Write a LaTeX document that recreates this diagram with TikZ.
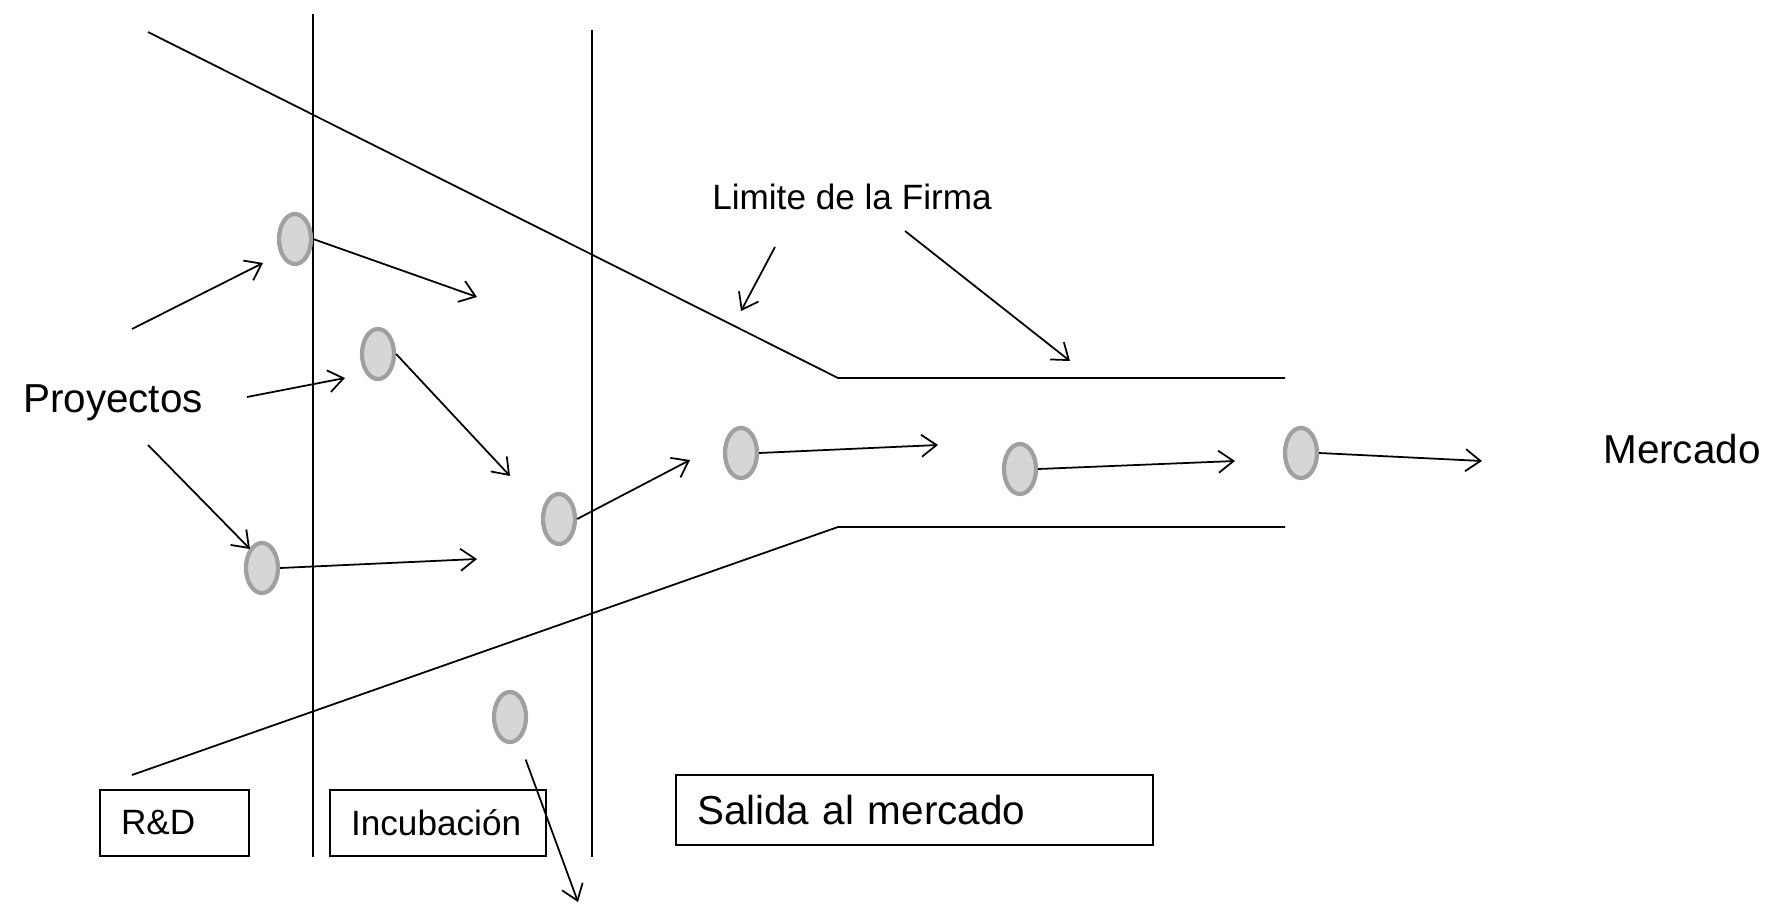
\documentclass[tikz,border=0pt]{standalone}
\usepackage{fontspec}
\setmainfont{Liberation Sans}
\usetikzlibrary{shapes.geometric,arrows.meta}
\definecolor{projfill}{HTML}{D6D6D6}
\definecolor{projline}{HTML}{A0A0A0}

\begin{document}
\begin{tikzpicture}
  [x=0.01cm,y=-0.01cm,line width=0.5pt,
   >={Straight Barb[length=1.5mm,width=2.2mm]},
   proj/.style={ellipse,draw=projline,fill=projfill,line width=1.2pt,
     minimum width=0.32cm,minimum height=0.50cm,inner sep=0pt},
   stage/.style={draw,line width=0.6pt,minimum height=0.66cm,inner xsep=0.21cm,
     align=left,anchor=west,font=\fontsize{10}{12}\selectfont},
   big/.style={font=\fontsize{11.5}{14}\selectfont},
   small/.style={font=\fontsize{10}{12}\selectfont}]
  \useasboundingbox (0,0) rectangle (1768,906);

  % phase dividers
  \draw (313,14) -- (313,857);
  \draw (592,30) -- (592,857);

  % limite de la firma
  \coordinate (ft1) at (148,32);
  \coordinate (ft2) at (838,378);
  \coordinate (ft3) at (1285,378);
  \coordinate (fb1) at (132,775);
  \coordinate (fb2) at (838,527);
  \coordinate (fb3) at (1285,527);
  \draw (ft1) -- (ft2) -- (ft3);
  \draw (fb1) -- (fb2) -- (fb3);

  % projects
  \node[proj] (e1) at (295,239) {};
  \node[proj] (e2) at (378,354) {};
  \node[proj] (e3) at (262,568) {};
  \node[proj] (e4) at (559,519) {};
  \node[proj] (e5) at (741,453) {};
  \node[proj] (e6) at (1020,469) {};
  \node[proj] (e7) at (1301,453) {};
  \node[proj] (e8) at (510,717) {};

  % labels
  \node[big] (proy) at (113,403) {Proyectos};
  \node[big] (merc) at (1682,449) {Mercado};
  \node[small] (lim) at (852,197) {Limite de la Firma};

  % stages
  \node[stage,text width=1.07cm] (rd) at (99,823) {R\&D};
  \node[stage,text width=1.74cm] (inc) at (329,823) {Incubación};
  \node[stage,text width=4.35cm,minimum height=0.70cm,
    font=\fontsize{11.5}{14}\selectfont] (sal) at (675,810) {Salida al mercado};

  % arrow ends
  \coordinate (s1) at (132,329);  \coordinate (t1) at (263,263);
  \coordinate (s2) at (247,397);  \coordinate (t2) at (345,378);
  \coordinate (s3) at (148,445);  \coordinate (t3) at (250,549);
  \coordinate (l1) at (775,247);  \coordinate (m1) at (741,311);
  \coordinate (l2) at (905,231);  \coordinate (m2) at (1070,361);
  \coordinate (a1) at (477,297);
  \coordinate (a2) at (510,476);
  \coordinate (a3) at (477,559);
  \coordinate (a4) at (690,460);
  \coordinate (a5) at (938,445);
  \coordinate (a6) at (1235,461);
  \coordinate (a7) at (1482,461);
  \coordinate (d8) at (578,902);

  \foreach \from/\to in {s1/t1,s2/t2,s3/t3,l1/m1,l2/m2}
    \draw[->] (\from) -- (\to);

  \foreach \from/\to in {e1/a1,e2/a2,e3/a3,e4/a4,e5/a5,e6/a6,e7/a7}
    \draw[->] (\from.east) -- (\to);

  \draw[->,shorten <=0.2cm] (e8) -- (d8);

\end{tikzpicture}
\end{document}
